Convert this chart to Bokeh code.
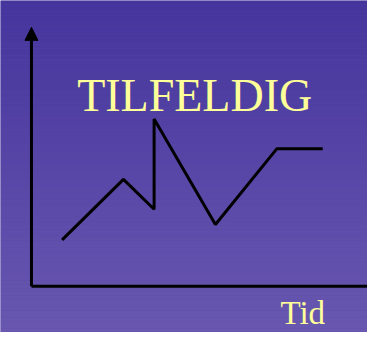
import numpy as np
from bokeh.plotting import figure
from bokeh.models import Range1d, Arrow, NormalHead, Label
from bokeh.embed import file_html
from bokeh.resources import INLINE

# --- data ---
tid = [0.5, 1.5, 2.0, 2.0, 3.0, 4.0, 4.75]
verdi = [0.76, 1.75, 1.26, 2.74, 1.01, 2.25, 2.25]
title_text = "TILFELDIG"
x_label = "Tid"
y_axis_top = 4.24

W, H = 367, 332
x0, x1 = -0.505, 5.48
y0, y1 = -0.758, 4.68

p = figure(width=W, height=H, output_backend="svg", toolbar_location=None,
           x_range=Range1d(x0, x1), y_range=Range1d(y0, y1),
           min_border=0, outline_line_color=None)
p.axis.visible = False
p.grid.visible = False

# background gradient (styling)
top_c = np.array([69, 52, 156])
bot_c = np.array([105, 88, 176])
n = 90
edges = np.linspace(y0, y1, n + 1)
cols = []
for i in range(n):
    f = (i + 0.5) / n  # 0 bottom -> 1 top
    c = bot_c + (top_c - bot_c) * f
    cols.append("#%02x%02x%02x" % tuple(int(round(v)) for v in c))
p.quad(left=x0, right=x1, bottom=edges[:-1], top=edges[1:] + 0.001,
       fill_color=cols, line_color=None)
p.background_fill_color = "#5a4aa8"
p.border_fill_color = "#5a4aa8"

# axes
p.line(x=[0, x1], y=[0, 0], line_color="black", line_width=3)
p.add_layout(Arrow(end=NormalHead(size=13, fill_color="black", line_color="black"),
                   x_start=0, y_start=0, x_end=0, y_end=y_axis_top,
                   line_color="black", line_width=3))

# series
p.line(x=tid, y=verdi, line_color="black", line_width=3)

p.add_layout(Label(x=0.745, y=3.117, text=title_text, text_font="Liberation Serif",
                   text_font_size="46px", text_color="#FFFF99",
                   text_baseline="alphabetic", text_align="left"))
p.add_layout(Label(x=4.06, y=-0.44, text=x_label,
                   text_font="Liberation Serif", text_font_size="33px",
                   text_color="#FFFF99", text_baseline="alphabetic",
                   text_align="left"))

open("out.html", "w").write(file_html(p, INLINE))
